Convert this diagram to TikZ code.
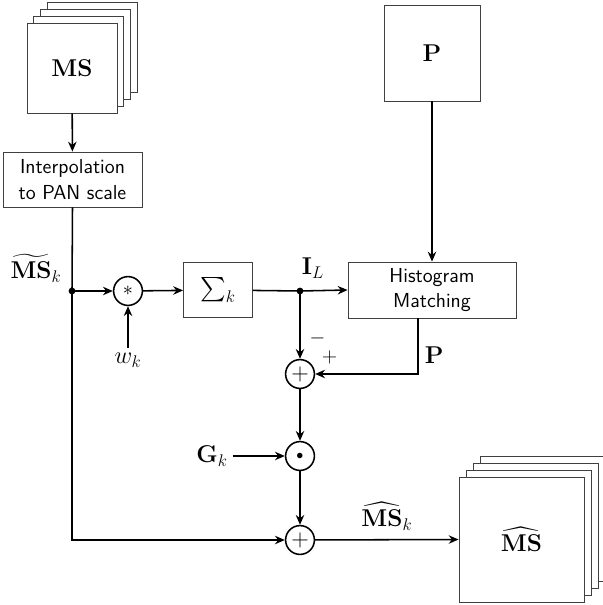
\documentclass[tikz,border=0pt]{standalone}
\usepackage{amsmath,amssymb}
\usepackage{tikz}
\usetikzlibrary{arrows.meta, positioning}

\begin{document}
\begin{tikzpicture}[
  x=0.025cm, y=-0.025cm,
  block/.style  = {draw=black!75, line width=0.6pt, fill=white,
                   align=center, font=\sffamily\Large},
  sheet/.style  = {draw=black!75, line width=0.6pt, fill=white,
                   minimum size=#1, inner sep=0pt},
  opnode/.style = {draw, circle, line width=1.1pt, minimum size=0.72cm,
                   inner sep=0pt},
  junc/.style   = {circle, fill, inner sep=1.7pt},
  arr/.style    = {-{Stealth[length=7pt, width=6pt]}, line width=1.1pt},
  lbl/.style    = {font=\LARGE}
]
\useasboundingbox (0,0) rectangle (603,605);
\clip (0,0) rectangle (603,605);

% input stack
\foreach \i in {3,2,1}
  \node[sheet=2.25cm] at (72+6.7*\i, 68-6.7*\i) {};
\node[sheet=2.25cm, font=\LARGE] (ms) at (72,68) {$\mathbf{MS}$};

\node[block, minimum width=3.475cm, minimum height=1.375cm] (interp)
  at (72.5,179.5) {Interpolation\\to PAN scale};

% upper branch
\node[junc] (jms) at (72,291) {};
\node[lbl] (mstk) at (36,268) {$\widetilde{\mathbf{MS}}_k$};
\node[opnode, font=\Large] (mult) at (128,291) {$*$};
\node[lbl] (wk) at (128,360) {$w_k$};
\node[block, font=\LARGE, minimum width=1.725cm, minimum height=1.375cm] (sum)
  at (218,290) {$\sum_k$};
\node[junc] (jil) at (300,291) {};
\node[lbl] (il) at (313,268) {$\mathbf{I}_L$};

% pan image and matching
\node[sheet=2.4cm, font=\LARGE] (pan) at (432,53) {$\mathbf{P}$};
\node[block, minimum width=4.2cm, minimum height=1.4cm] (hist)
  at (432,290) {Histogram\\Matching};

% detail injection
\node[opnode, font=\LARGE] (add1) at (300,374) {$+$};
\node[opnode] (mod) at (300,456) {$\bullet$};
\node[lbl] (gk) at (212,456) {$\mathbf{G}_k$};
\node[opnode, font=\LARGE] (add2) at (300,540) {$+$};

% output stack
\foreach \i in {3,2,1}
  \node[sheet=3.125cm] at (521.5+7*\i, 539.5-7*\i) {};
\node[sheet=3.125cm, font=\LARGE] (out) at (521.5,539.5)
  {$\widehat{\mathbf{MS}}$};

% connectors
\draw[arr] (ms) -- (interp);
\draw[line width=1.1pt] (interp.south) -- (jms.center);
\draw[arr] (jms.center) |- (add2.west);
\draw[arr] (jms.center) -- (mult);
\draw[arr] (wk) -- (mult);
\draw[arr] (mult) -- (sum);
\draw[line width=1.1pt] (sum) -- (jil.center);
\draw[arr] (jil.center) -- (hist.west);
\draw[arr] (jil.center) -- node[pos=0.7, right=3pt, font=\Large]{$-$} (add1.north);
\draw[arr] (pan) -- (hist);
\draw[arr] ([xshift=-0.35cm]hist.south) |- node[pos=0.33, right=1pt, lbl]{$\mathbf{P}$}
  node[pos=0.93, above=3pt, font=\Large]{$+$} (add1.east);
\draw[arr] (add1) -- (mod);
\draw[arr] (gk) -- (mod);
\draw[arr] (mod) -- (add2);
\draw[arr] (add2) -- node[above=3pt, lbl]{$\widehat{\mathbf{MS}}_k$} (out.west);

\end{tikzpicture}
\end{document}
